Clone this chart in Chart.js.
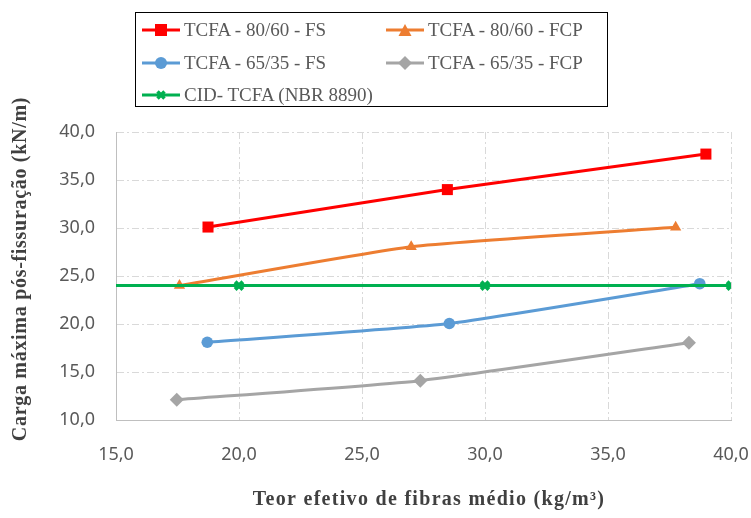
<!DOCTYPE html>
<html>
<head>
<meta charset="utf-8">
<script src="https://cdn.jsdelivr.net/npm/chart.js@4/dist/chart.umd.min.js"></script>
<style>
  html, body { margin: 0; padding: 0; background: #fff; }
  #wrap { position: relative; width: 751px; height: 518px; }
  #legend {
    position: absolute; left: 135px; top: 12px; width: 473px; height: 95px;
    border: 1px solid #000; box-sizing: border-box;
    font-family: "Liberation Serif", "Times New Roman", serif; font-size: 19px; color: #595959;
  }
  .item { position: absolute; display: flex; align-items: center; white-space: pre; }
  .item svg { margin-right: 4px; }
</style>
</head>
<body>
<div id="wrap">
  <canvas id="chart" width="751" height="518"></canvas>
  <div id="legend"></div>
</div>
<script>
// --- data ---
const seriesNames = [
  'TCFA - 80/60 - FS',
  'TCFA - 80/60 - FCP',
  'TCFA - 65/35 - FS',
  'TCFA - 65/35 - FCP',
  'CID- TCFA (NBR 8890)'
];
const xRedFS = [18.74, 28.47, 38.98];
const yRedFS = [30.1, 34.0, 37.7];
const xOrangeFCP = [17.58, 27.0, 37.75];
const yOrangeFCP = [24.0, 28.05, 30.07];
const xBlueFS = [18.71, 28.55, 38.73];
const yBlueFS = [18.1, 20.05, 24.2];
const xGrayFCP = [17.47, 27.37, 38.29];
const yGrayFCP = [12.1, 14.1, 18.05];
const xLimit = [10, 20, 30, 40];
const yLimit = [24, 24, 24, 24];

const xTicks = [15, 20, 25, 30, 35, 40];
const yTicks = [10, 15, 20, 25, 30, 35, 40];

const xTitle = 'Teor efetivo de fibras médio (kg/m³)';
const yTitle = 'Carga máxima pós-fissuração (kN/m)';

const colors = ['#FF0000', '#ED7D31', '#5B9BD5', '#A5A5A5', '#00B050'];
const markers = ['rect', 'triangle', 'circle', 'rectRot', 'crossRot'];
const markerSize = [7.8, 6.5, 5.8, 7, 5.5];

function toPoints(xs, ys) {
  return xs.map((x, i) => ({ x: x, y: ys[i] }));
}

const fmt = v => v.toFixed(1).replace('.', ',');

const seriesData = [
  toPoints(xRedFS, yRedFS),
  toPoints(xOrangeFCP, yOrangeFCP),
  toPoints(xBlueFS, yBlueFS),
  toPoints(xGrayFCP, yGrayFCP),
  toPoints(xLimit, yLimit)
];

const datasets = seriesData.map((pts, i) => {
  const isCross = markers[i] === 'crossRot';
  return {
    label: seriesNames[i],
    data: pts,
    showLine: true,
    borderColor: colors[i],
    backgroundColor: colors[i],
    borderWidth: 3,
    tension: isCross ? 0 : 0.15,
    pointStyle: markers[i],
    pointRadius: markerSize[i],
    pointBorderWidth: isCross ? 4 : 0,
    pointBorderColor: colors[i],
    pointBackgroundColor: colors[i],
    order: isCross ? 0 : 5 - i
  };
});

const gridOpts = {
  color: '#D9D9D9',
  lineWidth: 1,
  drawTicks: false
};

// axis titles drawn by hand so the letter spacing can match the reference
const axisTitles = {
  id: 'axisTitles',
  afterDraw(chart) {
    const ctx = chart.ctx;
    ctx.save();
    ctx.font = 'bold 20px "Liberation Serif", serif';
    ctx.fillStyle = '#404040';
    ctx.textAlign = 'center';
    ctx.textBaseline = 'middle';
    ctx.letterSpacing = '1.3px';
    ctx.fillText(xTitle, 429, 500);
    ctx.translate(21, 269);
    ctx.rotate(-Math.PI / 2);
    ctx.letterSpacing = '0.7px';
    ctx.fillText(yTitle, 0, 0);
    ctx.restore();
  }
};

new Chart(document.getElementById('chart'), {
  type: 'scatter',
  data: { datasets: datasets },
  plugins: [axisTitles],
  options: {
    responsive: false,
    animation: false,
    layout: { padding: { top: 132, right: 0, left: 0, bottom: 0 } },
    plugins: { legend: { display: false }, tooltip: { enabled: false } },
    scales: {
      x: {
        type: 'linear',
        min: 15, max: 40,
        afterBuildTicks: s => { s.ticks = xTicks.map(v => ({ value: v })); },
        afterFit: s => { s.height = 98; s.paddingLeft = 0; s.paddingRight = 20; },
        grid: gridOpts,
        border: { display: true, color: '#BFBFBF', width: 1, dash: [7, 3, 2, 3] },
        ticks: {
          padding: 24,
          color: '#595959',
          font: { family: 'Noto Sans', size: 18 },
          callback: v => fmt(v)
        }
      },
      y: {
        type: 'linear',
        min: 10, max: 40,
        afterBuildTicks: s => { s.ticks = yTicks.map(v => ({ value: v })); },
        afterFit: s => { s.width = 116; s.paddingTop = 0; s.paddingBottom = 0; },
        grid: gridOpts,
        border: { display: true, color: '#BFBFBF', width: 1, dash: [7, 3, 2, 3] },
        ticks: {
          padding: 21,
          color: '#595959',
          font: { family: 'Noto Sans', size: 18 },
          callback: v => fmt(v)
        }
      }
    }
  }
});

// --- HTML legend built from the datasets ---
function markerSvg(style, color) {
  let shape = '';
  if (style === 'rect') shape = `<rect x="13" y="2" width="12" height="12" fill="${color}"/>`;
  else if (style === 'triangle') shape = `<polygon points="19,2 25.5,14 12.5,14" fill="${color}"/>`;
  else if (style === 'circle') shape = `<circle cx="19" cy="8" r="6" fill="${color}"/>`;
  else if (style === 'rectRot') shape = `<polygon points="19,1 26,8 19,15 12,8" fill="${color}"/>`;
  else shape = `<path d="M15.5,4.5 L22.5,11.5 M22.5,4.5 L15.5,11.5" stroke="${color}" stroke-width="3.5"/>`;
  return `<svg width="38" height="16" viewBox="0 0 38 16">` +
    `<line x1="0" y1="8" x2="38" y2="8" stroke="${color}" stroke-width="3"/>${shape}</svg>`;
}

const legendEl = document.getElementById('legend');
const colX = [6, 250];
const rowY = [17, 50, 82];
datasets.forEach((ds, i) => {
  const el = document.createElement('div');
  el.className = 'item';
  el.style.left = colX[i % 2] + 'px';
  el.style.top = (rowY[Math.floor(i / 2)] - 12) + 'px';
  el.style.height = '24px';
  el.innerHTML = markerSvg(markers[i], colors[i]) + '<span>' + ds.label + '</span>';
  legendEl.appendChild(el);
});
</script>
</body>
</html>
